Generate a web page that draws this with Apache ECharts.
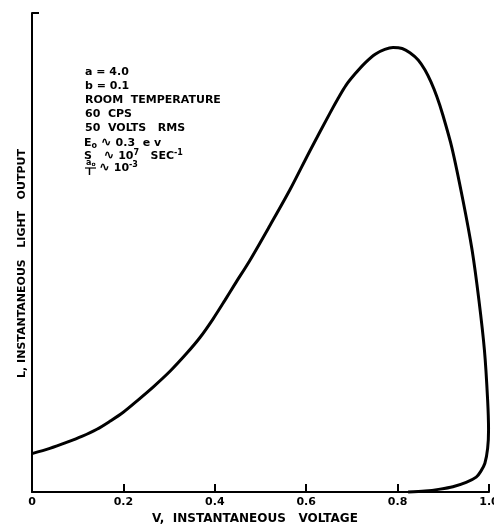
<!DOCTYPE html>
<html>
<head>
<meta charset="utf-8">
<script src="https://cdn.jsdelivr.net/npm/echarts@6/dist/echarts.min.js"></script>
<style>
html,body{margin:0;padding:0;background:#fff;overflow:hidden;}
#chart{width:494px;height:525px;}
</style>
</head>
<body>
<div id="chart"></div>
<script>
// Instantaneous voltage (fraction of peak) along the loop
var voltage = [0, 0.039, 0.077, 0.109, 0.142, 0.171, 0.199, 0.232, 0.265, 0.302, 0.339, 0.368, 0.396, 0.422, 0.444, 0.477, 0.521, 0.565, 0.608, 0.652, 0.670, 0.687, 0.707, 0.729, 0.751, 0.772, 0.790, 0.810, 0.827, 0.845, 0.860, 0.873, 0.886, 0.899, 0.919, 0.943, 0.963, 0.978, 0.990, 0.997, 0.999, 0.997, 0.991, 0.982, 0.972, 0.950, 0.921, 0.893, 0.860, 0.823];
// Instantaneous light output (relative)
var light = [0.080, 0.091, 0.104, 0.116, 0.131, 0.148, 0.166, 0.192, 0.219, 0.252, 0.290, 0.323, 0.361, 0.400, 0.434, 0.484, 0.557, 0.632, 0.712, 0.791, 0.822, 0.849, 0.873, 0.896, 0.914, 0.924, 0.928, 0.926, 0.917, 0.902, 0.881, 0.856, 0.825, 0.787, 0.718, 0.609, 0.505, 0.400, 0.296, 0.192, 0.129, 0.091, 0.060, 0.043, 0.031, 0.020, 0.011, 0.006, 0.002, 0];
var xTicks = [0, 0.2, 0.4, 0.6, 0.8, 1.0];
var xTickLabels = ['0', '0.2', '0.4', '0.6', '0.8', '1.0'];
var xTitle = 'V,  INSTANTANEOUS   VOLTAGE';
var yTitle = 'L, INSTANTANEOUS   LIGHT   OUTPUT';

var FONT = '"DejaVu Sans", "Liberation Sans", sans-serif';
var pts = voltage.map(function (v, i) { return [v, light[i]]; });

var chart = echarts.init(document.getElementById('chart'), null, {renderer: 'canvas'});

var richStyles = {
  n: {fontSize: 11, fontWeight: 'bold', fontFamily: FONT, color: '#000'},
  sub: {fontSize: 8, fontWeight: 'bold', fontFamily: FONT, color: '#000', padding: [6, 0, 0, 0]},
  sup: {fontSize: 8, fontWeight: 'bold', fontFamily: FONT, color: '#000', padding: [0, 0, 6, 0]},
  w: {fontSize: 13, fontWeight: 'bold', fontFamily: FONT, color: '#000'}
};
function txt(x, y, text) {
  return {
    type: 'text', x: x, y: y,
    style: {text: text, fill: '#000', font: 'bold 11px ' + FONT, verticalAlign: 'middle', rich: richStyles}
  };
}

chart.setOption({
  animation: false,
  backgroundColor: '#fff',
  grid: {left: 32, right: 5, top: 13, bottom: 33, containLabel: false, outerBoundsMode: 'none'},
  xAxis: {
    type: 'value', min: 0, max: 1, interval: 0.2,
    name: xTitle, nameLocation: 'middle', nameGap: 20,
    nameTextStyle: {fontFamily: FONT, fontWeight: 'bold', fontSize: 12, color: '#000', padding: [0, 11, 0, 0]},
    axisLine: {show: true, lineStyle: {color: '#000', width: 2}},
    axisTick: {show: true, inside: true, length: 8, lineStyle: {color: '#000', width: 2}},
    axisLabel: {
      margin: 5, color: '#000', fontFamily: FONT, fontWeight: 'bold', fontSize: 11,
      hideOverlap: false,
      formatter: function (v) {
        for (var i = 0; i < xTicks.length; i++) if (Math.abs(xTicks[i] - v) < 1e-9) return xTickLabels[i];
        return '';
      }
    },
    splitLine: {show: false}
  },
  yAxis: {
    type: 'value', min: 0, max: 1, interval: 1,
    name: yTitle, nameLocation: 'middle', nameRotate: 90, nameGap: 4,
    nameTextStyle: {fontFamily: FONT, fontWeight: 'bold', fontSize: 11, color: '#000', padding: [0, 22, 0, 0]},
    axisLine: {show: true, lineStyle: {color: '#000', width: 2}},
    axisTick: {show: true, inside: true, length: 7, lineStyle: {color: '#000', width: 2}},
    axisLabel: {show: false},
    splitLine: {show: false}
  },
  series: [{
    type: 'line', data: pts, smooth: 0.3, showSymbol: false, clip: false,
    lineStyle: {color: '#000', width: 3}
  }],
  graphic: [
    txt(85, 72, '{n|a = 4.0}'),
    txt(85, 86, '{n|b = 0.1}'),
    txt(85, 100, '{n|ROOM  TEMPERATURE}'),
    txt(85, 114, '{n|60  CPS}'),
    txt(85, 128, '{n|50  VOLTS   RMS}'),
    txt(84, 143, '{n|E}{sub|o}{n| }{w|∿}{n| 0.3  e v}'),
    txt(84, 156, '{n|S   }{w|∿}{n| 10}{sup|7}{n|   SEC}{sup|-1}'),
    {type: 'text', x: 86, y: 163, style: {text: '{n|a}{sub|o}', verticalAlign: 'middle', rich: {
      n: {fontSize: 8, fontWeight: 'bold', fontFamily: FONT, color: '#000'},
      sub: {fontSize: 6, fontWeight: 'bold', fontFamily: FONT, color: '#000', padding: [3, 0, 0, 0]}
    }}},
    {type: 'line', shape: {x1: 85, y1: 168, x2: 96, y2: 168}, style: {stroke: '#000', lineWidth: 1.2}},
    {type: 'text', x: 88, y: 173, style: {text: 'I', font: 'bold 8px ' + FONT, fill: '#000', verticalAlign: 'middle'}},
    txt(99, 168, '{w|∿}{n| 10}{sup|-3}')
  ]
});
</script>
</body>
</html>
